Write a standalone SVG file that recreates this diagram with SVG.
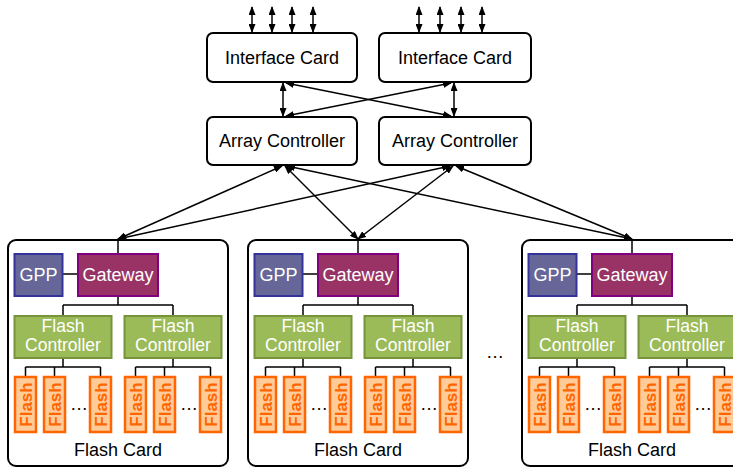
<svg xmlns="http://www.w3.org/2000/svg" width="733" height="467" viewBox="0 0 733 467">
<style>
.box{fill:#fff;stroke:#000;stroke-width:2}
.card{fill:#fff;stroke:#000;stroke-width:2}
.t{font-family:"Liberation Sans",Arial,sans-serif;font-size:18px;fill:#000;text-anchor:middle}
.wt{font-family:"Liberation Sans",Arial,sans-serif;font-size:18px;fill:#fff;text-anchor:middle}
.ft{font-family:"Liberation Sans",Arial,sans-serif;font-size:17.5px;fill:#fff;text-anchor:middle}
.ct{font-family:"Liberation Sans",Arial,sans-serif;font-size:17px;font-weight:bold;fill:#ff6600;text-anchor:middle}
.gpp{fill:#666699;stroke:#333399;stroke-width:2}
.gw{fill:#993366;stroke:#800080;stroke-width:2}
.fc{fill:#9bbb59;stroke:#77933c;stroke-width:2}
.chip{fill:#ffcc99;stroke:#ff6600;stroke-width:2.5}
.w{fill:none;stroke:#000;stroke-width:1.5}
.a{fill:none;stroke:#000;stroke-width:1.5;marker-start:url(#ah);marker-end:url(#ah)}
</style>
<defs>
<marker id="ah" markerUnits="userSpaceOnUse" markerWidth="9" markerHeight="7" refX="8" refY="3.5" orient="auto-start-reverse">
<path d="M0,0 L9,3.5 L0,7 z" fill="#000"/>
</marker>
<g id="chip"><rect class="chip" x="-10.5" y="-27.5" width="21" height="55"/><text class="ct" transform="rotate(-90)" x="0" y="6.5">Flash</text></g>
</defs>

<g id="connectors">
<line class="a" x1="252" y1="7" x2="252" y2="32"/>
<line class="a" x1="272" y1="7" x2="272" y2="32"/>
<line class="a" x1="292" y1="7" x2="292" y2="32"/>
<line class="a" x1="313" y1="7" x2="313" y2="32"/>
<line class="a" x1="419" y1="7" x2="419" y2="32"/>
<line class="a" x1="440" y1="7" x2="440" y2="32"/>
<line class="a" x1="461" y1="7" x2="461" y2="32"/>
<line class="a" x1="482" y1="7" x2="482" y2="32"/>
<line class="a" x1="283" y1="83" x2="283" y2="116"/>
<line class="a" x1="454" y1="83" x2="454" y2="116"/>
<line class="a" x1="286" y1="83" x2="451" y2="116"/>
<line class="a" x1="286" y1="116" x2="451" y2="83"/>
<line class="a" x1="282" y1="166" x2="118" y2="239"/>
<line class="a" x1="285" y1="166" x2="358" y2="239"/>
<line class="a" x1="287" y1="166" x2="632" y2="239"/>
<line class="a" x1="450" y1="166" x2="118" y2="239"/>
<line class="a" x1="453" y1="166" x2="358" y2="239"/>
<line class="a" x1="456" y1="166" x2="632" y2="239"/>
</g>

<g id="ic1"><rect class="box" x="207" y="33" width="150" height="49" rx="6"/><text class="t" x="282" y="64">Interface Card</text></g>
<g id="ic2"><rect class="box" x="379" y="33" width="152" height="49" rx="6"/><text class="t" x="455" y="64">Interface Card</text></g>
<g id="ac1"><rect class="box" x="207" y="117" width="150" height="48" rx="6"/><text class="t" x="282" y="147">Array Controller</text></g>
<g id="ac2"><rect class="box" x="379" y="117" width="152" height="48" rx="6"/><text class="t" x="455" y="147">Array Controller</text></g>

<g id="card1">
<rect class="card" x="8" y="240" width="220" height="226" rx="8"/>
<path class="w" d="M118,240 V254 M62,274 H78 M118,296 V305 M63,305 H173 M63,305 V316 M173,305 V316 M63,358 V367 M25.5,367 H100.5 M25.5,367 V377 M54.5,367 V377 M100.5,367 V377 M173,358 V367 M135.5,367 H210.5 M135.5,367 V377 M164.5,367 V377 M210.5,367 V377"/>
<g id="card1-gpp"><rect class="gpp" x="14.5" y="254" width="48" height="42"/><text class="wt" x="38.5" y="281">GPP</text></g>
<g id="card1-gw"><rect class="gw" x="78" y="254" width="80" height="42"/><text class="wt" x="118" y="281">Gateway</text></g>
<g id="card1-fc1"><rect class="fc" x="14.5" y="316" width="97" height="42"/><text class="ft" x="63" y="332">Flash</text><text class="ft" x="63" y="350.5">Controller</text></g>
<g id="card1-fc2"><rect class="fc" x="124.5" y="316" width="97" height="42"/><text class="ft" x="173" y="332">Flash</text><text class="ft" x="173" y="350.5">Controller</text></g>
<use href="#chip" x="25.5" y="404.5"/><use href="#chip" x="54.5" y="404.5"/><use href="#chip" x="100.5" y="404.5"/>
<use href="#chip" x="135.5" y="404.5"/><use href="#chip" x="164.5" y="404.5"/><use href="#chip" x="210.5" y="404.5"/>
<text class="t" x="79" y="410" font-size="15">…</text>
<text class="t" x="189" y="410" font-size="15">…</text>
<text class="t" x="118" y="456">Flash Card</text>
</g>

<g id="card2" transform="translate(240,0)">
<rect class="card" x="8" y="240" width="220" height="226" rx="8"/>
<path class="w" d="M118,240 V254 M62,274 H78 M118,296 V305 M63,305 H173 M63,305 V316 M173,305 V316 M63,358 V367 M25.5,367 H100.5 M25.5,367 V377 M54.5,367 V377 M100.5,367 V377 M173,358 V367 M135.5,367 H210.5 M135.5,367 V377 M164.5,367 V377 M210.5,367 V377"/>
<g id="card2-gpp"><rect class="gpp" x="14.5" y="254" width="48" height="42"/><text class="wt" x="38.5" y="281">GPP</text></g>
<g id="card2-gw"><rect class="gw" x="78" y="254" width="80" height="42"/><text class="wt" x="118" y="281">Gateway</text></g>
<g id="card2-fc1"><rect class="fc" x="14.5" y="316" width="97" height="42"/><text class="ft" x="63" y="332">Flash</text><text class="ft" x="63" y="350.5">Controller</text></g>
<g id="card2-fc2"><rect class="fc" x="124.5" y="316" width="97" height="42"/><text class="ft" x="173" y="332">Flash</text><text class="ft" x="173" y="350.5">Controller</text></g>
<use href="#chip" x="25.5" y="404.5"/><use href="#chip" x="54.5" y="404.5"/><use href="#chip" x="100.5" y="404.5"/>
<use href="#chip" x="135.5" y="404.5"/><use href="#chip" x="164.5" y="404.5"/><use href="#chip" x="210.5" y="404.5"/>
<text class="t" x="79" y="410" font-size="15">…</text>
<text class="t" x="189" y="410" font-size="15">…</text>
<text class="t" x="118" y="456">Flash Card</text>
</g>

<g id="card3" transform="translate(514,0)">
<rect class="card" x="8" y="240" width="220" height="226" rx="8"/>
<path class="w" d="M118,240 V254 M62,274 H78 M118,296 V305 M63,305 H173 M63,305 V316 M173,305 V316 M63,358 V367 M25.5,367 H100.5 M25.5,367 V377 M54.5,367 V377 M100.5,367 V377 M173,358 V367 M135.5,367 H210.5 M135.5,367 V377 M164.5,367 V377 M210.5,367 V377"/>
<g id="card3-gpp"><rect class="gpp" x="14.5" y="254" width="48" height="42"/><text class="wt" x="38.5" y="281">GPP</text></g>
<g id="card3-gw"><rect class="gw" x="78" y="254" width="80" height="42"/><text class="wt" x="118" y="281">Gateway</text></g>
<g id="card3-fc1"><rect class="fc" x="14.5" y="316" width="97" height="42"/><text class="ft" x="63" y="332">Flash</text><text class="ft" x="63" y="350.5">Controller</text></g>
<g id="card3-fc2"><rect class="fc" x="124.5" y="316" width="97" height="42"/><text class="ft" x="173" y="332">Flash</text><text class="ft" x="173" y="350.5">Controller</text></g>
<use href="#chip" x="25.5" y="404.5"/><use href="#chip" x="54.5" y="404.5"/><use href="#chip" x="100.5" y="404.5"/>
<use href="#chip" x="135.5" y="404.5"/><use href="#chip" x="164.5" y="404.5"/><use href="#chip" x="210.5" y="404.5"/>
<text class="t" x="79" y="410" font-size="15">…</text>
<text class="t" x="189" y="410" font-size="15">…</text>
<text class="t" x="118" y="456">Flash Card</text>
</g>

<text class="t" x="495" y="358">…</text>
</svg>
